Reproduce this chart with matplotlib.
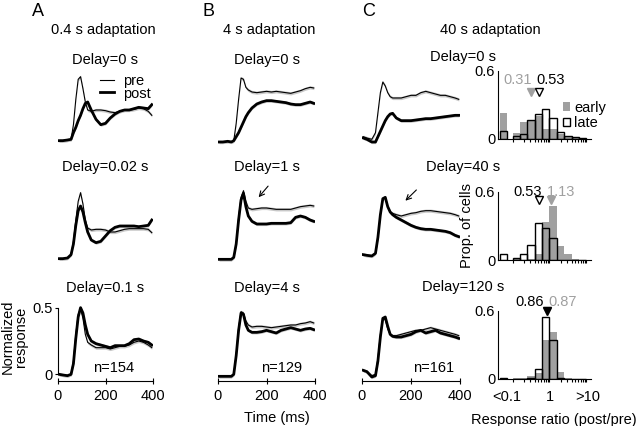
import matplotlib
matplotlib.use('Agg')
import matplotlib.pyplot as plt
from matplotlib.patches import Patch
import numpy as np

plt.rcParams['font.family'] = ['Liberation Sans', 'DejaVu Sans']
plt.rcParams['font.size'] = 10.5

# time axis of the traces (ms)
t = [5, 20, 40, 55, 65, 75, 85, 95, 105, 115, 125, 140, 160, 180, 200,
     220, 240, 260, 280, 300, 320, 340, 360, 380, 395]

# column A: 0.4 s adaptation, rows = delay 0, 0.02, 0.1 s
pre_a = [
    [-0.01, -0.01, -0.005, 0.0, 0.11, 0.3, 0.45, 0.47, 0.38, 0.28, 0.22, 0.21, 0.22, 0.22, 0.215,
     0.205, 0.2, 0.21, 0.22, 0.22, 0.225, 0.235, 0.23, 0.21, 0.18],
    [-0.01, -0.01, -0.005, 0.02, 0.12, 0.28, 0.42, 0.485, 0.4, 0.28, 0.22, 0.205, 0.21, 0.21, 0.205,
     0.19, 0.19, 0.2, 0.21, 0.215, 0.215, 0.215, 0.215, 0.21, 0.185],
    [0.0, -0.005, -0.01, 0.0, 0.1, 0.3, 0.45, 0.49, 0.42, 0.3, 0.24, 0.22, 0.2, 0.2, 0.2,
     0.19, 0.2, 0.21, 0.21, 0.22, 0.24, 0.25, 0.24, 0.22, 0.2]]
post_a = [
    [-0.01, -0.01, -0.005, 0.0, 0.05, 0.09, 0.14, 0.18, 0.23, 0.27, 0.28, 0.22, 0.15, 0.11, 0.12,
     0.16, 0.19, 0.21, 0.22, 0.22, 0.23, 0.24, 0.235, 0.23, 0.26],
    [-0.01, -0.01, -0.005, 0.02, 0.1, 0.24, 0.35, 0.385, 0.34, 0.26, 0.19, 0.13, 0.11, 0.12, 0.16,
     0.2, 0.225, 0.235, 0.235, 0.235, 0.235, 0.23, 0.235, 0.24, 0.28],
    [0.0, -0.005, -0.01, 0.0, 0.08, 0.27, 0.43, 0.5, 0.46, 0.37, 0.3, 0.25, 0.23, 0.22, 0.21,
     0.2, 0.215, 0.215, 0.215, 0.23, 0.26, 0.265, 0.25, 0.24, 0.22]]

# column B: 4 s adaptation, rows = delay 0, 1, 4 s
pre_b = [
    [-0.02, -0.02, -0.015, -0.02, -0.01, 0.12, 0.3, 0.46, 0.45, 0.39, 0.37, 0.355, 0.35, 0.355, 0.36,
     0.355, 0.36, 0.355, 0.35, 0.345, 0.355, 0.365, 0.38, 0.39, 0.385],
    [-0.015, -0.015, -0.015, -0.015, 0.0, 0.1, 0.3, 0.45, 0.5, 0.42, 0.37, 0.36, 0.365, 0.37, 0.37,
     0.365, 0.36, 0.36, 0.36, 0.36, 0.37, 0.38, 0.385, 0.39, 0.385],
    [-0.015, -0.015, -0.015, -0.015, 0.0, 0.15, 0.35, 0.47, 0.46, 0.4, 0.37, 0.355, 0.36, 0.36, 0.355,
     0.35, 0.355, 0.36, 0.365, 0.37, 0.37, 0.38, 0.385, 0.395, 0.385]]
post_b = [
    [-0.02, -0.02, -0.015, -0.02, -0.01, 0.02, 0.05, 0.09, 0.13, 0.17, 0.2, 0.235, 0.265, 0.28, 0.29,
     0.29, 0.285, 0.28, 0.275, 0.265, 0.26, 0.26, 0.27, 0.28, 0.27],
    [-0.015, -0.015, -0.015, -0.015, 0.0, 0.1, 0.28, 0.43, 0.48, 0.38, 0.31, 0.27, 0.25, 0.25, 0.25,
     0.255, 0.255, 0.255, 0.255, 0.26, 0.3, 0.31, 0.3, 0.28, 0.27],
    [-0.015, -0.015, -0.015, -0.015, 0.0, 0.14, 0.33, 0.46, 0.45, 0.37, 0.33, 0.315, 0.315, 0.32, 0.33,
     0.32, 0.31, 0.33, 0.34, 0.35, 0.34, 0.33, 0.34, 0.345, 0.335]]

# column C: 40 s adaptation, rows = delay 0, 40, 120 s
pre_c = [
    [0.02, 0.01, 0.0, 0.05, 0.2, 0.35, 0.43, 0.4, 0.35, 0.32, 0.31, 0.31, 0.31, 0.32, 0.33,
     0.33, 0.35, 0.36, 0.35, 0.34, 0.33, 0.33, 0.32, 0.31, 0.3],
    [0.02, 0.015, 0.01, 0.03, 0.15, 0.32, 0.44, 0.45, 0.38, 0.34, 0.33, 0.32, 0.31, 0.32, 0.33,
     0.335, 0.345, 0.35, 0.35, 0.345, 0.34, 0.335, 0.33, 0.32, 0.31],
    [0.03, 0.02, -0.01, 0.0, 0.12, 0.3, 0.42, 0.41, 0.34, 0.3, 0.29, 0.29, 0.3, 0.31, 0.32,
     0.33, 0.33, 0.34, 0.35, 0.34, 0.33, 0.32, 0.31, 0.3, 0.29]]
post_c = [
    [0.01, 0.0, -0.02, -0.02, 0.02, 0.06, 0.1, 0.14, 0.17, 0.19, 0.195, 0.16, 0.14, 0.14, 0.14,
     0.145, 0.15, 0.155, 0.155, 0.16, 0.165, 0.17, 0.175, 0.18, 0.18],
    [0.02, 0.015, 0.01, 0.03, 0.15, 0.32, 0.44, 0.45, 0.38, 0.34, 0.32, 0.3, 0.28, 0.26, 0.24,
     0.225, 0.215, 0.21, 0.21, 0.205, 0.2, 0.195, 0.185, 0.165, 0.155],
    [0.03, 0.02, -0.02, -0.01, 0.1, 0.28, 0.42, 0.43, 0.36, 0.3, 0.285, 0.28, 0.28, 0.29, 0.3,
     0.32, 0.33, 0.31, 0.32, 0.33, 0.31, 0.3, 0.29, 0.28, 0.27]]
sem = 0.012

col_titles = ['0.4 s adaptation', '4 s adaptation', '40 s adaptation']
delays = [['Delay=0 s', 'Delay=0.02 s', 'Delay=0.1 s'],
          ['Delay=0 s', 'Delay=1 s', 'Delay=4 s'],
          ['Delay=0 s', 'Delay=40 s', 'Delay=120 s']]
n_cells = ['n=154', 'n=129', 'n=161']

# histograms of log10(post/pre), first bin = "<0.1"
bin_centers = [-1.25, -0.9, -0.7, -0.5, -0.3, -0.1, 0.1, 0.3, 0.5, 0.7, 0.9]
early = [[0.23, 0.05, 0.145, 0.16, 0.2, 0.085, 0.085, 0.045, 0.02, 0.01, 0.005],
         [0.0, 0.01, 0.0, 0.01, 0.05, 0.33, 0.475, 0.12, 0.05, 0.01, 0.0],
         [0.01, 0.005, 0.005, 0.025, 0.05, 0.345, 0.41, 0.06, 0.01, 0.0, 0.0]]
late = [[0.07, 0.03, 0.045, 0.17, 0.22, 0.26, 0.18, 0.065, 0.03, 0.018, 0.005],
        [0.05, 0.015, 0.05, 0.13, 0.32, 0.28, 0.19, 0.0, 0.0, 0.0, 0.0],
        [0.01, 0.0, 0.0, 0.005, 0.085, 0.54, 0.345, 0.01, 0.0, 0.0, 0.0]]
early_med = [0.31, 1.13, 0.87]
late_med = [0.53, 0.53, 0.86]

GRAY = '#a0a0a0'
W, H = 640, 426
fig = plt.figure(figsize=(W / 100, H / 100), dpi=100)


def add_ax(left, bottom, w, h):
    # pixel box (bottom measured from the top edge)
    return fig.add_axes([left / W, (H - bottom) / H, w / W, h / H])


trace_left = [58, 218, 362]
trace_w = [95, 97, 98]
row_bottom = [146, 264, 381]
title_y = [1.075, 1.21, 1.16]
all_pre = [pre_a, pre_b, pre_c]
all_post = [post_a, post_b, post_c]

for c in range(3):
    for r in range(3):
        ax = add_ax(trace_left[c], row_bottom[r], trace_w[c], 80)
        pre = np.array(all_pre[c][r])
        post = np.array(all_post[c][r])
        ax.fill_between(t, pre - sem, pre + sem, color='#c8c8c8', lw=0)
        ax.fill_between(t, post - sem, post + sem, color='#c8c8c8', lw=0)
        ax.plot(t, pre, color='black', lw=0.8, label='pre')
        ax.plot(t, post, color='black', lw=2.0, label='post')
        ax.set_xlim(0, 400)
        ax.set_ylim(-0.05, 0.55)
        for s in ['top', 'right', 'left', 'bottom']:
            ax.spines[s].set_visible(False)
        ax.set_yticks([])
        ax.set_xticks([])
        if c < 2:
            ax.text(0.5, title_y[r], delays[c][r], transform=ax.transAxes,
                    ha='center', va='center')
        else:
            ty = [1.11, 1.21, 1.175][r]
            ax.text(1.03, ty, delays[c][r], transform=ax.transAxes,
                    ha='center', va='center')
        if r == 2:
            ax.spines['bottom'].set_visible(True)
            ax.spines['bottom'].set_bounds(0, 400)
            ax.set_xticks([0, 200, 400])
            ax.tick_params(axis='x', direction='inout', length=4, width=0.8, pad=4)
            ax.text([0.584, 0.66, 0.735][c], 0.16, n_cells[c], transform=ax.transAxes,
                    ha='center', va='center')
            if c == 0:
                ax.spines['left'].set_visible(True)
                ax.spines['left'].set_bounds(0, 0.5)
                ax.set_yticks([0, 0.5])
                ax.set_yticklabels(['0', '0.5'])
                ax.tick_params(axis='y', direction='out', length=2, width=0.8, pad=2)
                ax.set_ylabel('Normalized\nresponse', linespacing=0.85)
                ax.yaxis.set_label_coords(-0.32, 0.55)
            if c == 1:
                ax.set_xlabel('Time (ms)')
                ax.xaxis.set_label_coords(0.61, -0.37)
        if c == 0 and r == 0:
            ax.legend(loc='upper left', bbox_to_anchor=(0.44, 0.9), frameon=False,
                      handlelength=1.0, handletextpad=0.6, labelspacing=-0.1,
                      borderpad=0, borderaxespad=0)
        if r == 1 and c == 1:
            ax.annotate('', xy=(160, 0.435), xytext=(214, 0.55),
                        arrowprops=dict(arrowstyle='->', lw=0.8, color='black', mutation_scale=9),
                        annotation_clip=False)
        if r == 1 and c == 2:
            ax.annotate('', xy=(169, 0.41), xytext=(230, 0.52),
                        arrowprops=dict(arrowstyle='->', lw=0.8, color='black', mutation_scale=9),
                        annotation_clip=False)

# histograms
hist_bottom = [139, 260, 379]
tri_y = [0.41, 0.525, 0.596]
lab_y = [0.517, 0.6, 0.674]
minor = ([-1] + list(np.log10(np.arange(2, 10) / 10)) + [0] +
         list(np.log10(np.arange(2, 10))) + [1])
for r in range(3):
    ax = add_ax(498, hist_bottom[r], 93, 68.5)
    ax.bar(bin_centers, early[r], width=0.2, color=GRAY, edgecolor='none')
    ax.bar(bin_centers, late[r], width=0.2, facecolor='none', edgecolor='black', lw=1.0)
    ax.set_xlim(-1.392, 1.122)
    ax.set_ylim(0, 0.6)
    ax.spines['top'].set_visible(False)
    ax.spines['right'].set_visible(False)
    ax.spines['left'].set_bounds(0, 0.6)
    ax.set_yticks([0, 0.6])
    ax.set_yticklabels(['0', '0.6'])
    ax.tick_params(axis='y', length=0, pad=2)
    ax.xaxis.remove_overlapping_locs = False
    ax.set_xticks([-1.15, 0, 1.03])
    ax.set_xticks(minor, minor=True)
    ax.tick_params(axis='x', which='major', length=0, pad=8)
    ax.tick_params(axis='x', which='minor', direction='out', length=2.5, width=0.8)
    if r == 2:
        ax.set_xticklabels(['<0.1', '1', '>10'])
        ax.set_xlabel('Response ratio (post/pre)')
        ax.xaxis.set_label_coords(0.60, -0.50)
    else:
        ax.set_xticklabels([])
    if r == 1:
        ax.set_ylabel('Prop. of cells')
        ax.yaxis.set_label_coords(-0.26, 0.51)

    e, l = np.log10(early_med[r]), np.log10(late_med[r])
    ax.plot(e, tri_y[r], marker='v', ms=5.5, mfc=GRAY, mec=GRAY, clip_on=False)
    ax.plot(l, tri_y[r], marker='v', ms=5.5, mfc='white' if r < 2 else 'black',
            mec='black', mew=1.0, clip_on=False)
    mid = (e + l) / 2
    if early_med[r] < late_med[r]:
        lo, hi, lo_col, hi_col = early_med[r], late_med[r], GRAY, 'black'
    else:
        lo, hi, lo_col, hi_col = late_med[r], early_med[r], 'black', GRAY
    ax.text(mid - 0.09, lab_y[r], f'{lo:.2f}', color=lo_col, ha='right', va='center', clip_on=False)
    ax.text(mid + 0.04, lab_y[r], f'{hi:.2f}', color=hi_col, ha='left', va='center', clip_on=False)
    if r == 0:
        handles = [Patch(facecolor=GRAY, edgecolor='none'),
                   Patch(facecolor='white', edgecolor='black', lw=1.0)]
        ax.legend(handles, ['early', 'late'], loc='upper left', bbox_to_anchor=(0.7, 0.56),
                  frameon=False, handlelength=0.5, handleheight=0.5, handletextpad=0.25,
                  labelspacing=0.1, borderpad=0, borderaxespad=0)

# column titles and panel letters
for x, txt in zip([103.5, 269, 490], col_titles):
    fig.text(x / W, (H - 30) / H, txt, ha='center', va='center')
for x, txt in zip([37.5, 208, 369], ['A', 'B', 'C']):
    fig.text(x / W, (H - 11) / H, txt, ha='center', va='center', fontsize=13)

fig.savefig('out.png', dpi=100)
